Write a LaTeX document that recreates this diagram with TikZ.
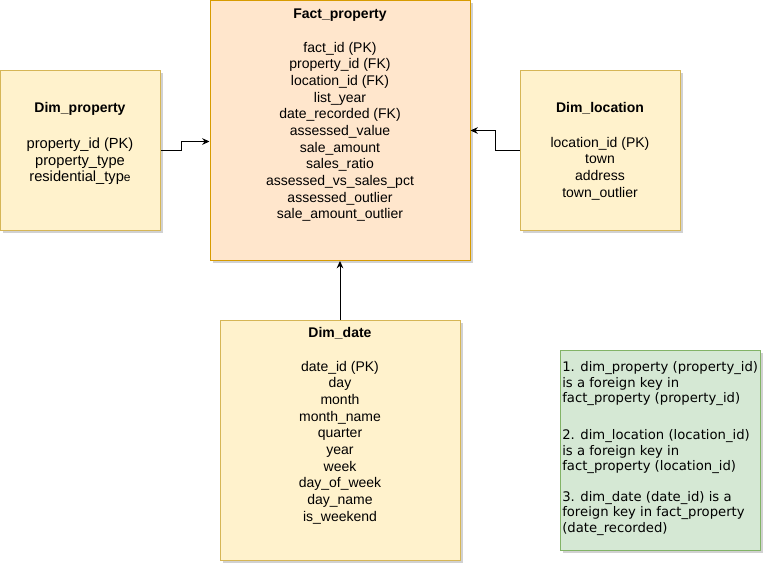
\documentclass[tikz,border=0pt]{standalone}
\usepackage{fontspec}
\setmainfont{Liberation Sans}
\newfontfamily\notefont{DejaVu Sans}
\usetikzlibrary{arrows.meta,positioning,calc,shadows}
\definecolor{factfill}{HTML}{FFE6CC}
\definecolor{factline}{HTML}{D79B00}
\definecolor{dimfill}{HTML}{FFF2CC}
\definecolor{dimline}{HTML}{D6B656}
\definecolor{notefill}{HTML}{D5E8D4}
\definecolor{noteline}{HTML}{82B366}

\begin{document}
\begin{tikzpicture}[
  x=0.75pt, y=-0.75pt,
  font=\fontsize{10.5}{12.5}\selectfont,
  tbl/.style={draw, line width=0.75pt, drop shadow={shadow xshift=2pt, shadow yshift=-2pt, opacity=0.18, fill=black}},
  factbox/.style={tbl, fill=factfill, draw=factline, minimum width=195pt, minimum height=195pt},
  dimbox/.style={tbl, fill=dimfill, draw=dimline, minimum width=120pt, minimum height=120pt},
  datebox/.style={dimbox, minimum width=180pt, minimum height=180pt},
  notebox/.style={tbl, fill=notefill, draw=noteline, minimum width=150pt, minimum height=150pt},
  title/.style={font=\fontsize{10.5}{12.5}\selectfont\bfseries, anchor=base, inner sep=0pt},
  fields/.style={align=center, anchor=base, inner sep=0pt},
  notetext/.style={font=\notefont\fontsize{9.9}{11.5}\selectfont, align=left, anchor=base west, inner sep=0pt},
  arr/.style={-{Stealth[length=5.5pt,width=5pt]}, line width=0.75pt}
]
\useasboundingbox (0,0) rectangle (772,572);

% boxes
\node[factbox] (fact) at (340,130.5) {};
\node[dimbox] (prop) at (80.5,150) {};
\node[dimbox] (loc) at (600,150) {};
\node[datebox] (date) at (340,440) {};
\node[notebox] (note) at (660,450) {};

% texts (fields are placed by their last line)
\node[title] (facttitle) at (340,18.5) {Fact\_property};
\node[fields] (factfields) at (340,218.7) {fact\_id (PK)\\property\_id (FK)\\location\_id (FK)\\list\_year\\date\_recorded (FK)\\assessed\_value\\sale\_amount\\sales\_ratio\\assessed\_vs\_sales\_pct\\assessed\_outlier\\sale\_amount\_outlier};

\node[title] (proptitle) at (80,112) {Dim\_property};
\node[fields, font=\fontsize{11}{12.5}\selectfont] (propfields) at (80,181.7) {property\_id (PK)\\property\_type\\residential\_typ{\fontsize{9}{10}\selectfont e}};

\node[title] (loctitle) at (600,112.5) {Dim\_location};
\node[fields] (locfields) at (600,197) {location\_id (PK)\\town\\address\\town\_outlier};

\node[title] (datetitle) at (340,337) {Dim\_date};
\node[fields] (datefields) at (340,521) {date\_id (PK)\\day\\month\\month\_name\\quarter\\year\\week\\day\_of\_week\\day\_name\\is\_weekend};

\node[notetext] (notes) at (562,532.3) {1. dim\_property (property\_id)\\is a foreign key in\\fact\_property (property\_id)\\[16.5pt]
2. dim\_location (location\_id)\\is a foreign key in\\fact\_property (location\_id)\\[11.75pt]
3. dim\_date (date\_id) is a\\foreign key in fact\_property\\(date\_recorded)};

% connectors
\draw[arr] (prop.east) -- ++(20,0) |- ($(fact.west)+(0,11)$);
\draw[arr] (loc.west) -- ++(-24,0) |- (fact.east);
\draw[arr] (date.north) -- (fact.south);
\end{tikzpicture}
\end{document}
